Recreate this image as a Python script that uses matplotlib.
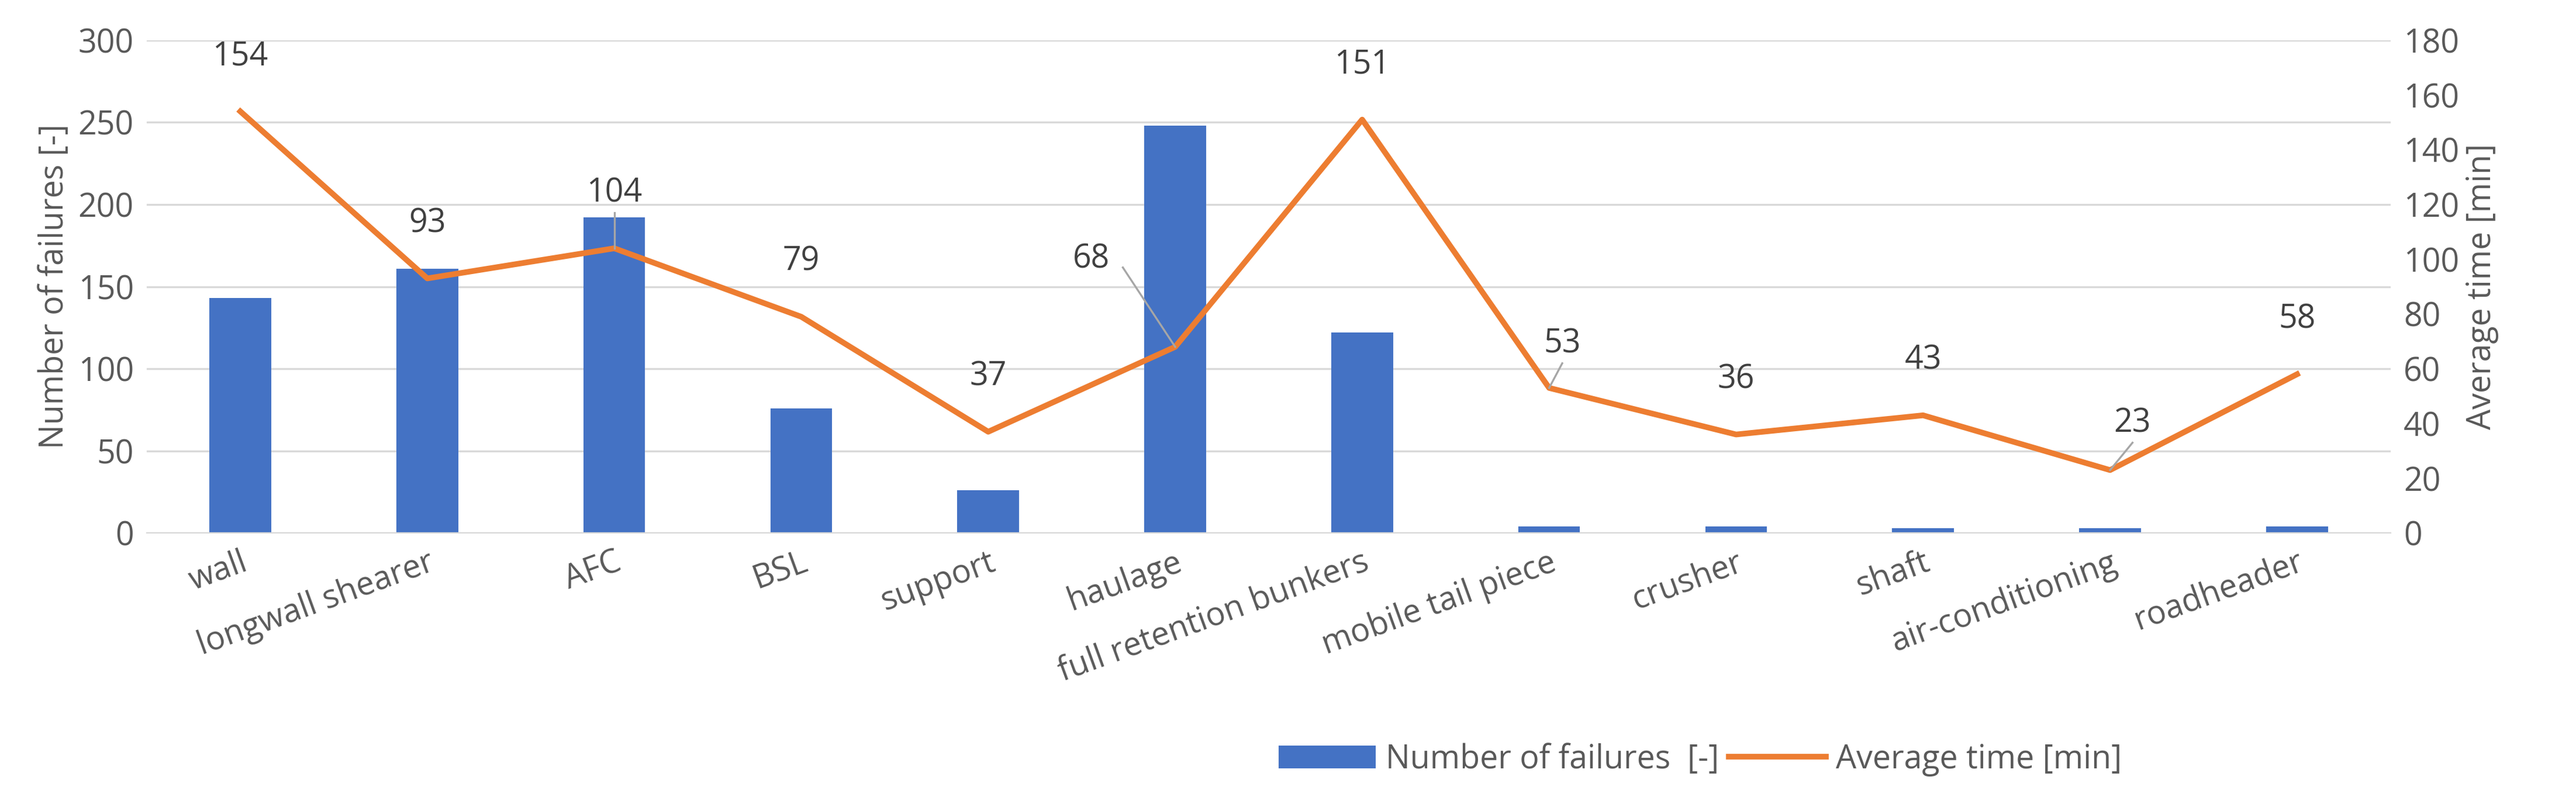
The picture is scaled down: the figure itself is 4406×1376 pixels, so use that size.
import matplotlib
matplotlib.use("Agg")
import matplotlib.pyplot as plt
import numpy as np

categories = ["wall", "longwall shearer", "AFC", "BSL", "support", "haulage",
              "full retention bunkers", "mobile tail piece", "crusher", "shaft",
              "air-conditioning", "roadheader"]
failures = [143, 161, 192, 76, 26, 248, 122, 4, 4, 3, 3, 4]
avg_time = [154, 93, 104, 79, 37, 68, 151, 53, 36, 43, 23, 58]
label_off = [(0, 20), (0, 20), (0, 20), (0, 20), (0, 20), (-0.45, 32), (0, 20),
             (0.07, 16), (0, 20), (0, 20), (0.12, 17), (0, 20)]
leader = [False, False, True, False, False, True, False, True, False, False, True, False]

plt.rcParams['font.family'] = ['Open Sans', 'DejaVu Sans']
fs = 20
fig = plt.figure(figsize=(22.03, 6.88), dpi=200)
ax = fig.add_axes([0.057, 0.337, 0.871, 0.613])
ax2 = ax.twinx()
x = np.arange(len(categories))
grey = "#595959"
b = ax.bar(x, failures, width=0.33, color="#4472C4", zorder=2, label="Number of failures  [-]")
l, = ax2.plot(x, avg_time, color="#ED7D31", lw=3.5, zorder=3, label="Average time [min]")
ax.set_ylim(0, 300)
ax.set_yticks(range(0, 301, 50))
ax2.set_ylim(0, 180)
ax2.set_yticks(range(0, 181, 20))
ax.set_xlim(-0.5, len(categories) - 0.5)
ax.grid(axis='y', color="#D9D9D9", lw=1.2, zorder=0)
for a in (ax, ax2):
    for s in a.spines.values():
        s.set_visible(False)
    a.tick_params(length=0, labelsize=fs, colors=grey, pad=8)
ax.spines['bottom'].set_visible(True)
ax.spines['bottom'].set_color("#D9D9D9")
ax.set_xticks(x)
ax.set_xticklabels(categories, rotation=20, ha='right', rotation_mode='anchor', fontsize=fs, color=grey)
ax.set_ylabel("Number of failures [-]", fontsize=fs, color=grey)
ax2.set_ylabel("Average time [min]", fontsize=fs, color=grey)
for i, v in enumerate(avg_time):
    dx, dy = label_off[i]
    tx, ty = i + dx, v + dy
    ax2.text(tx, ty, str(v), ha='center', va='center', fontsize=fs, color="#404040", zorder=5)
    if leader[i]:
        if dx < 0:
            ax2.plot([tx + 0.17, i], [ty - 3, v], color="#A6A6A6", lw=1.2, zorder=4)
        else:
            ax2.plot([tx, i], [ty - 7, v], color="#A6A6A6", lw=1.2, zorder=4)
fig.legend(handles=[b, l], loc='center', bbox_to_anchor=(0.66, 0.055), ncol=2, frameon=False,
           fontsize=fs, labelcolor=grey, handlelength=3, columnspacing=0.3, handletextpad=0.3)
fig.savefig("out.png", dpi=200)
